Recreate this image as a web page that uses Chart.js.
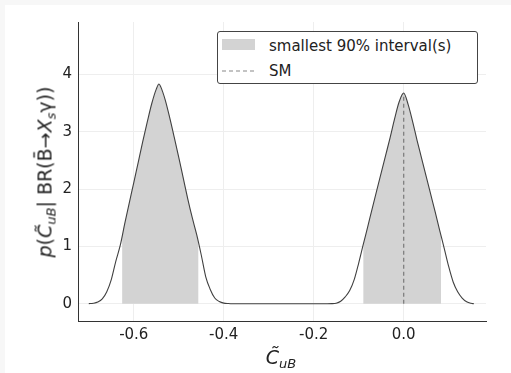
<!DOCTYPE html>
<html>
<head>
<meta charset="utf-8">
<script src="https://cdn.jsdelivr.net/npm/chart.js@4"></script>
<style>
  html, body { margin: 0; padding: 0; }
  body { width: 511px; height: 373px; background: #f7f7f7; position: relative; overflow: hidden; font-family: "DejaVu Sans", sans-serif; }
  #panel { position: absolute; left: 5px; top: 5px; right: 0; bottom: 0; background: #fff; }
  #grafica { position: absolute; left: 0; top: 0; }
  .titulo { position: absolute; color: #222; font-size: 19px; white-space: nowrap; line-height: 1; }
  .titulo i { font-style: italic; }
  .titulo sub { font-size: 13px; vertical-align: -4px; line-height: 0; }
  #xtitulo { left: 281px; top: 357px; transform: translate(-50%, -50%); }
  #ytitulo { left: 45px; top: 172px; transform: translate(-50%, -50%) rotate(-90deg); }
  #leyenda { position: absolute; left: 217px; top: 31px; width: 259px; height: 51px; border: 1px solid #444; border-radius: 3px; background: #fff; font-size: 15px; color: #222; }
  #leyenda .parche { position: absolute; left: 4px; top: 7px; width: 33px; height: 11px; background: #d3d3d3; }
  #leyenda svg { position: absolute; left: 4px; top: 37px; }
  #leyenda .texto { position: absolute; left: 51px; line-height: 1; transform: translateY(-50%); white-space: nowrap; }
</style>
</head>
<body>
<div id="panel"></div>
<canvas id="grafica" width="511" height="373"></canvas>

<div id="xtitulo" class="titulo"><i>C&#771;</i><sub><i>uB</i></sub></div>
<div id="ytitulo" class="titulo"><i>p</i>(<i>C&#771;</i><sub><i>uB</i></sub>| BR(B&#772;&#8594;<i>X</i><sub><i>s</i></sub>&#947;))</div>

<div id="leyenda">
  <div class="parche"></div>
  <div class="texto" style="top:14px">smallest 90% interval(s)</div>
  <svg width="34" height="4"><line x1="0" y1="2" x2="34" y2="2" stroke="#888" stroke-width="1.2" stroke-dasharray="4,3"/></svg>
  <div class="texto" style="top:39px">SM</div>
</div>

<script>
// Datos
const cuB = [
  -0.70, -0.69, -0.68, -0.67, -0.66, -0.65, -0.64, -0.63, -0.62, -0.61,
  -0.60, -0.59, -0.58, -0.57, -0.56, -0.55, -0.544, -0.54, -0.53, -0.52,
  -0.51, -0.50, -0.49, -0.48, -0.47, -0.46, -0.45, -0.44, -0.43, -0.42,
  -0.41, -0.40, -0.39, -0.38, -0.36, -0.34, -0.32, -0.30, -0.28, -0.26,
  -0.24, -0.22, -0.20, -0.18, -0.17, -0.16, -0.15, -0.14, -0.13, -0.12,
  -0.11, -0.10, -0.09, -0.08, -0.07, -0.06, -0.05, -0.04, -0.03, -0.02,
  -0.01, 0.00, 0.01, 0.02, 0.03, 0.04, 0.05, 0.06, 0.07, 0.08,
  0.09, 0.10, 0.11, 0.12, 0.13, 0.14, 0.15, 0.156
];
const densidad = [
  0.002, 0.009, 0.03, 0.085, 0.21, 0.42, 0.74, 1.02, 1.40, 1.76,
  2.11, 2.47, 2.83, 3.17, 3.49, 3.74, 3.83, 3.78, 3.55, 3.24,
  2.90, 2.55, 2.19, 1.83, 1.50, 1.20, 0.85, 0.47, 0.25, 0.10,
  0.04, 0.012, 0.004, 0.001, 0.001, 0.001, 0.001, 0.001, 0.001, 0.001,
  0.001, 0.001, 0.001, 0.001, 0.001, 0.002, 0.01, 0.045, 0.12, 0.23,
  0.42, 0.71, 1.03, 1.34, 1.66, 1.97, 2.28, 2.59, 2.90, 3.23,
  3.52, 3.67, 3.47, 3.17, 2.84, 2.53, 2.22, 1.91, 1.60, 1.28,
  0.97, 0.65, 0.38, 0.21, 0.10, 0.035, 0.008, 0.001
];

// Intervalos más pequeños del 90% y altura del borde
const intervalos = [[-0.626, -0.456], [-0.090, 0.083]];
const alturaBordes = [[1.17, 1.06], [1.03, 1.19]];

// Predicción del SM
const smX = 0.0;
const smAltura = 3.67;

const xTicks = [-0.6, -0.4, -0.2, 0.0];
const yTicks = [0, 1, 2, 3, 4];

const curva = cuB.map((x, i) => ({ x: x, y: densidad[i] }));

const bandas = intervalos.map((iv, k) => {
  const pts = [{ x: iv[0], y: alturaBordes[k][0] }];
  curva.forEach(p => { if (p.x > iv[0] && p.x < iv[1]) pts.push(p); });
  pts.push({ x: iv[1], y: alturaBordes[k][1] });
  return {
    label: 'smallest 90% interval(s)',
    data: pts,
    showLine: true,
    fill: 'origin',
    backgroundColor: '#d3d3d3',
    borderWidth: 0,
    pointRadius: 0,
    order: 3
  };
});

const fuenteTicks = { family: 'DejaVu Sans', size: 15 };

const ctx = document.getElementById('grafica').getContext('2d');
const grafica = new Chart(ctx, {
  type: 'scatter',
  data: {
    datasets: [
      ...bandas,
      {
        label: 'densidad',
        data: curva,
        showLine: true,
        fill: false,
        borderColor: '#404040',
        borderWidth: 1.1,
        pointRadius: 0,
        cubicInterpolationMode: 'monotone',
        order: 2
      },
      {
        label: 'SM',
        data: [{ x: smX, y: 0 }, { x: smX, y: smAltura }],
        showLine: true,
        fill: false,
        borderColor: '#808080',
        borderWidth: 1.3,
        borderDash: [4, 3],
        pointRadius: 0,
        order: 1
      }
    ]
  },
  options: {
    responsive: false,
    animation: false,
    events: [],
    layout: { padding: { left: 0, right: 25, top: 22, bottom: 0 } },
    plugins: {
      legend: { display: false },
      tooltip: { enabled: false }
    },
    scales: {
      x: {
        type: 'linear',
        min: -0.724,
        max: 0.183,
        afterFit: s => { s.height = 52; },
        afterBuildTicks: s => { s.ticks = xTicks.map(v => ({ value: v })); },
        grid: { color: '#eeeeee', lineWidth: 1, drawTicks: false },
        border: { display: true, color: '#333', width: 1 },
        ticks: {
          padding: 5,
          color: '#222',
          font: fuenteTicks,
          maxRotation: 0,
          callback: v => v.toFixed(1)
        }
      },
      y: {
        type: 'linear',
        min: -0.30,
        max: 4.91,
        afterFit: s => { s.width = 78; },
        afterBuildTicks: s => { s.ticks = yTicks.map(v => ({ value: v })); },
        grid: { color: '#eeeeee', lineWidth: 1, drawTicks: false },
        border: { display: true, color: '#333', width: 1 },
        ticks: {
          padding: 6,
          color: '#222',
          font: fuenteTicks,
          callback: v => String(v)
        }
      }
    }
  }
});
</script>
</body>
</html>
